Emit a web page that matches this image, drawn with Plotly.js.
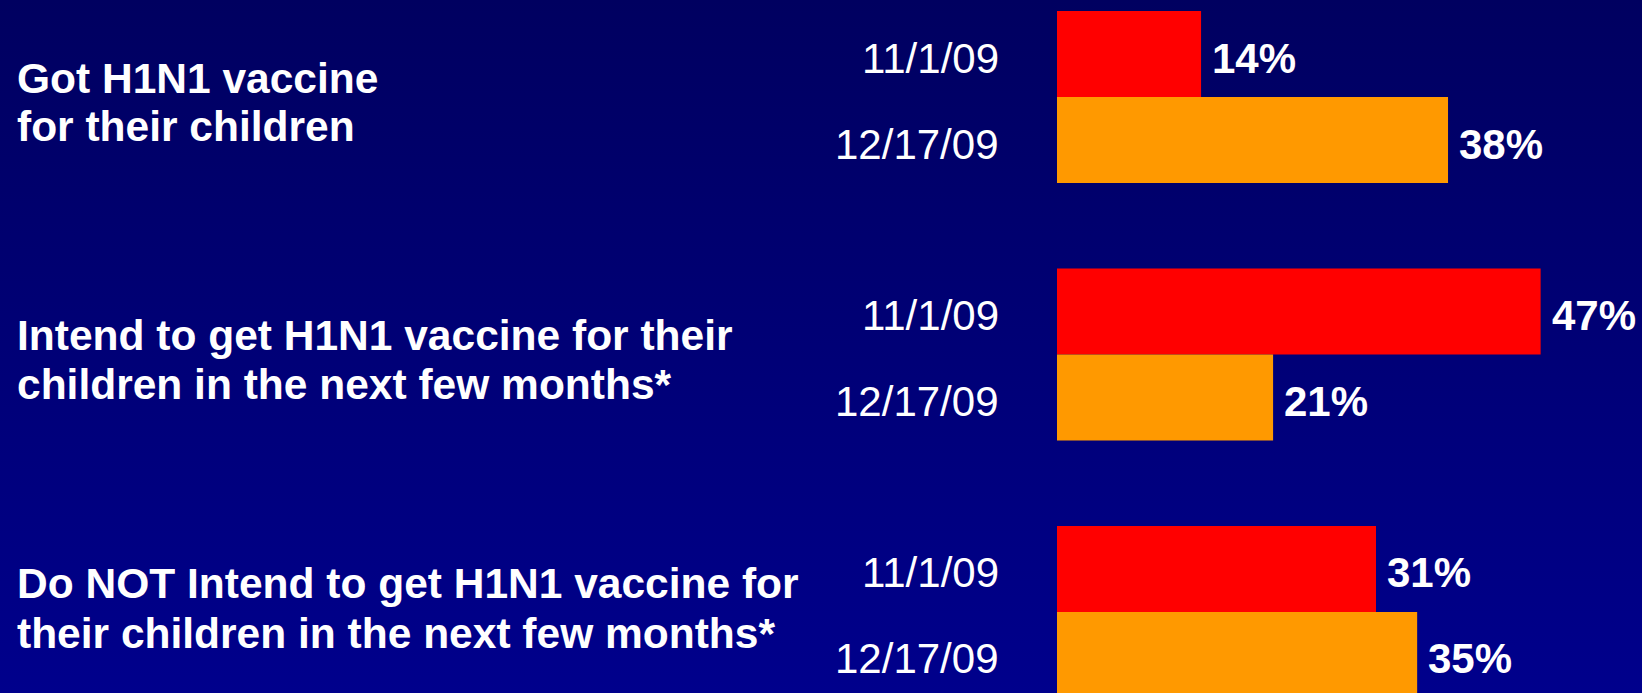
<!DOCTYPE html>
<html>
<head>
<meta charset="utf-8">
<script src="https://cdn.plot.ly/plotly-3.0.1.min.js"></script>
<style>
  html, body { margin: 0; padding: 0; }
  body { width: 1642px; height: 693px; background: linear-gradient(to bottom, #000060 0%, #00008c 100%); overflow: hidden; }
  #chart { width: 1642px; height: 693px; }
</style>
</head>
<body>
<div id="chart"></div>
<script>
// ---- data ----
const categories = ["got", "intend", "notIntend"];
const categoryLines = [
  ["Got H1N1 vaccine", "for their children"],
  ["Intend to get H1N1 vaccine for their", "children in the next few months*"],
  ["Do NOT Intend to get H1N1 vaccine for", "their children in the next few months*"]
];
const seriesNames = ["11/1/09", "12/17/09"];
const valuesNov = [14, 47, 31];
const valuesDec = [38, 21, 35];
const seriesColors = ["#ff0000", "#ff9900"];

const fontFamily = "Arial, 'Liberation Sans', sans-serif";
const series = [valuesNov, valuesDec];
// vertical pixel offsets of the two category-label lines per group
const labelShifts = [[19, -29.4], [19.5, -30], [28, -21.5]];

const traces = series.map((vals, i) => ({
  type: "bar",
  orientation: "h",
  name: seriesNames[i],
  x: vals,
  y: categories,
  marker: { color: seriesColors[i], line: { width: 0 } },
  hoverinfo: "none"
}));

const annotations = [];
categories.forEach((cat, ci) => {
  series.forEach((vals, si) => {
    const shift = si === 0 ? 43 : -43;
    // value labels
    annotations.push({
      x: vals[ci], y: cat, xref: "x", yref: "y",
      text: vals[ci] + "%", showarrow: false,
      xanchor: "left", yanchor: "middle", xshift: 9, yshift: shift - 4,
      font: { family: fontFamily, size: 42, color: "#ffffff", weight: "bold" }
    });
    // date labels
    annotations.push({
      x: 0, y: cat, xref: "paper", yref: "y",
      text: seriesNames[si], showarrow: false,
      xanchor: "right", yanchor: "middle", xshift: -56, yshift: shift - 4,
      font: { family: fontFamily, size: 42, color: "#ffffff" }
    });
  });
  categoryLines[ci].forEach((line, li) => {
    annotations.push({
      x: 0, y: cat, xref: "paper", yref: "y",
      text: "<b>" + line + "</b>", showarrow: false,
      xanchor: "left", yanchor: "middle", xshift: -1042, yshift: labelShifts[ci][li],
      font: { family: fontFamily, size: 42.5, color: "#ffffff" }
    });
  });
});

const layout = {
  width: 1642, height: 693,
  margin: { l: 1057, r: 0, t: 0, b: 0, pad: 0 },
  paper_bgcolor: "rgba(0,0,0,0)",
  plot_bgcolor: "rgba(0,0,0,0)",
  barmode: "group",
  bargap: 0.332,
  bargroupgap: 0,
  showlegend: false,
  xaxis: { range: [0, 56.85], visible: false, fixedrange: true },
  yaxis: { type: "category", range: [2.3146, -0.3767], visible: false, fixedrange: true },
  annotations: annotations
};

Plotly.newPlot("chart", traces, layout, { displayModeBar: false, staticPlot: true });
</script>
</body>
</html>
